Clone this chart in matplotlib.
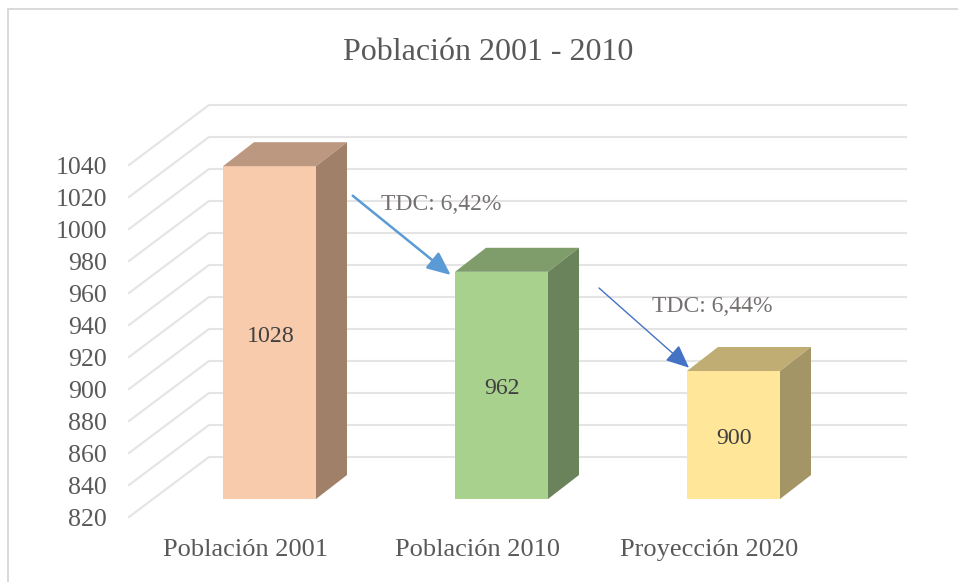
"""Poblacion 2001 - 2010: 3D-looking column chart drawn on a flat axes."""

import matplotlib
matplotlib.use("Agg")
import matplotlib.pyplot as plt
from matplotlib.lines import Line2D
from matplotlib.patches import Polygon

categories = ["Población 2001", "Población 2010", "Proyección 2020"]
values = [1028, 962, 900]
y_ticks = [820, 840, 860, 880, 900, 920, 940, 960, 980, 1000, 1020, 1040]
title = "Población 2001 - 2010"
growth_labels = ["TDC: 6,42%", "TDC: 6,44%"]

front_colors = ["#F7CBAC", "#A9D18E", "#FFE699"]
top_colors = ["#BD9880", "#7F9D6B", "#BFAD73"]
side_colors = ["#A08069", "#6B835A", "#A39565"]

W, H = 958, 582
PX_PER_CAT = 232.0
PX_PER_UNIT = 1.6
AX_LEFT, AX_RIGHT, AX_BOTTOM, AX_TOP = 129, 906, 517, 105
FIRST_CAT_PX = 245.5
GRID = "#E4E4E4"


def fx(px):
    return px / W


def fy(px):
    return 1 - px / H


def dx(px):
    return px / PX_PER_CAT


def dy(px):
    return px / PX_PER_UNIT


fig = plt.figure(figsize=(W / 100, H / 100), dpi=100)
plt.rcParams["font.family"] = ["Liberation Serif", "DejaVu Serif"]
ax = fig.add_axes([fx(AX_LEFT), fy(AX_BOTTOM), (AX_RIGHT - AX_LEFT) / W, (AX_BOTTOM - AX_TOP) / H])
ax.set_xlim((AX_LEFT - FIRST_CAT_PX) / PX_PER_CAT, (AX_RIGHT - FIRST_CAT_PX) / PX_PER_CAT)
ax.set_ylim(y_ticks[0], y_ticks[0] + dy(AX_BOTTOM - AX_TOP))
ax.patch.set_visible(False)
for spine in ax.spines.values():
    spine.set_visible(False)

# grid: slanted floor segment, then the run along the back wall
x_left = ax.get_xlim()[0]
x_right = ax.get_xlim()[1]
for v in y_ticks:
    ax.plot([x_left, x_left + dx(80), x_right], [v, v + dy(60), v + dy(60)],
            color=GRID, lw=1.5, zorder=1, solid_joinstyle="miter", clip_on=False)

# columns sit a little behind the front edge of the floor
shift_x, shift_y = dx(24), dy(18)
depth_x, depth_y = dx(31), dy(24)
half = dx(46.5)
positions = list(range(len(categories)))
ax.bar([p + shift_x for p in positions], [v - y_ticks[0] for v in values],
       bottom=y_ticks[0] + shift_y, width=2 * half, color=front_colors, zorder=3)
for p, v, top_c, side_c in zip(positions, values, top_colors, side_colors):
    x0 = p + shift_x - half
    x1 = p + shift_x + half
    y0 = y_ticks[0] + shift_y
    y1 = v + shift_y
    ax.add_patch(Polygon([(x0, y1), (x1, y1), (x1 + depth_x, y1 + depth_y), (x0 + depth_x, y1 + depth_y)],
                         closed=True, facecolor=top_c, edgecolor="none", zorder=3))
    ax.add_patch(Polygon([(x1, y0), (x1 + depth_x, y0 + depth_y), (x1 + depth_x, y1 + depth_y), (x1, y1)],
                         closed=True, facecolor=side_c, edgecolor="none", zorder=3))
    ax.text(p + shift_x + dx(1), (y0 + y1) / 2 - dy(3.5), str(v), ha="center", va="center",
            fontsize=17.2, color="#404040", zorder=4)

ax.set_yticks(y_ticks)
ax.set_yticklabels([str(v) for v in y_ticks], fontsize=18.6, color="#595959")
ax.set_xticks(positions)
ax.set_xticklabels(categories, fontsize=19, color="#595959")
ax.tick_params(axis="y", length=0, pad=16)
ax.tick_params(axis="x", length=0, pad=16)

fig.text(fx(488.5), fy(53), title, ha="center", va="center", fontsize=23, color="#595959")
fig.text(fx(381), fy(204), growth_labels[0], ha="left", va="center", fontsize=17, color="#767171")
fig.text(fx(652), fy(307), growth_labels[1], ha="left", va="center", fontsize=17, color="#767171")

# arrows between columns
head = "-|>,head_length=0.95,head_width=0.42"
ax.annotate("", xy=(fx(450.7), fy(275)), xytext=(fx(352.7), fy(195.7)),
            xycoords="figure fraction", textcoords="figure fraction", zorder=5,
            arrowprops=dict(arrowstyle=head, color="#5B9BD5", lw=1.8,
                            shrinkA=0, shrinkB=0, mutation_scale=15))
ax.annotate("", xy=(fx(689), fy(367.7)), xytext=(fx(599), fy(288)),
            xycoords="figure fraction", textcoords="figure fraction", zorder=5,
            arrowprops=dict(arrowstyle=head, color="#4472C4", lw=1,
                            shrinkA=0, shrinkB=0, mutation_scale=15))

# chart frame, only the left and top edges are in the crop
fig.add_artist(Line2D([fx(8), fx(8)], [0, fy(9)], color="#D9D9D9", lw=1.4))
fig.add_artist(Line2D([fx(8), 1], [fy(9), fy(9)], color="#D9D9D9", lw=1.4))

fig.savefig("out.png", dpi=100)
